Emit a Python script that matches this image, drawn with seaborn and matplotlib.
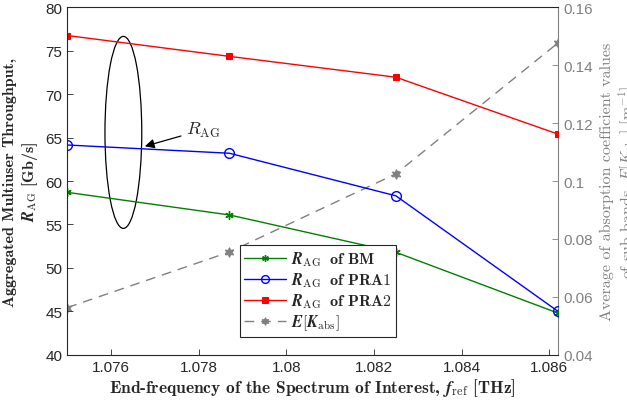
import numpy as np
import pandas as pd
import matplotlib
matplotlib.use("Agg")
import matplotlib.pyplot as plt
from matplotlib.patches import Ellipse
import seaborn as sns

sns.set_style("ticks")
plt.rcParams['font.family'] = ['Liberation Sans', 'DejaVu Sans']
plt.rcParams['mathtext.fontset'] = 'cm'
plt.rcParams['xtick.direction'] = 'in'
plt.rcParams['ytick.direction'] = 'in'
plt.rcParams['axes.unicode_minus'] = False

# ---- data ----
f_ref = [1.0750, 1.0787, 1.0825, 1.0862]
r_bm = [58.7, 56.1, 51.8, 44.8]
r_pra1 = [64.15, 63.2, 58.3, 45.0]
r_pra2 = [76.75, 74.35, 71.95, 65.4]
e_kabs = [0.0563, 0.0755, 0.1025, 0.1477]
xticks = [1.076, 1.078, 1.080, 1.082, 1.084, 1.086]
xticklabels = ['1.076', '1.078', '1.08', '1.082', '1.084', '1.086']
yticks_left = [40, 45, 50, 55, 60, 65, 70, 75, 80]
yticks_right = [0.04, 0.06, 0.08, 0.1, 0.12, 0.14, 0.16]
yticklabels_right = ['0.04', '0.06', '0.08', '0.1', '0.12', '0.14', '0.16']

df = pd.DataFrame({'f': f_ref, 'bm': r_bm, 'pra1': r_pra1, 'pra2': r_pra2, 'e': e_kabs})

fig = plt.figure(figsize=(6.27, 4.06), dpi=100)
ax = fig.add_axes([0.1073, 0.1236, 0.89 - 0.1073, 0.9796 - 0.1236])
ax2 = ax.twinx()

green = '#008000'
grey = '#808080'
lab = r'$\mathbfit{R}_{\rm AG}$'

sns.lineplot(data=df, x='f', y='bm', ax=ax, color=green, lw=1.0,
             marker=(6, 2, 0), markersize=6, markeredgewidth=1.0,
             markeredgecolor=green, label=lab + r'  $\mathbf{of\ BM}$')
sns.lineplot(data=df, x='f', y='pra1', ax=ax, color='blue', lw=1.0,
             marker='o', markersize=7, markerfacecolor='none',
             markeredgecolor='blue', markeredgewidth=1.0,
             label=lab + r'  $\mathbf{of\ PRA1}$')
sns.lineplot(data=df, x='f', y='pra2', ax=ax, color='red', lw=1.0,
             marker='s', markersize=5, markerfacecolor='red',
             markeredgecolor='red', label=lab + r'  $\mathbf{of\ PRA2}$')
sns.lineplot(data=df, x='f', y='e', ax=ax2, color=grey, lw=1.0,
             linestyle=(0, (7, 5)), marker=(6, 1, 0), markersize=7,
             markerfacecolor=grey, markeredgecolor=grey,
             label=r'$\mathbfit{E}[\mathbfit{K}_{\rm abs}]$')

ax.set_xlim(f_ref[0], f_ref[-1])
ax.set_ylim(40, 80)
ax2.set_ylim(0.04, 0.16)
ax.set_xticks(xticks)
ax.set_xticklabels(xticklabels)
ax.set_yticks(yticks_left)
ax2.set_yticks(yticks_right)
ax2.set_yticklabels(yticklabels_right)

ax.tick_params(axis='both', labelsize=11, colors='#262626', length=4, width=0.6)
ax2.tick_params(axis='y', labelsize=11, colors=grey, length=4, width=0.6)
for s in ['left', 'bottom', 'top']:
    ax.spines[s].set_color('#262626')
    ax.spines[s].set_linewidth(0.8)
ax2.spines['right'].set_color(grey)
ax2.spines['right'].set_linewidth(0.8)
ax2.spines['top'].set_visible(False)
ax.spines['right'].set_visible(False)
ax2.spines['left'].set_visible(False)
ax2.spines['bottom'].set_visible(False)
ax.spines['top'].set_visible(True)

ax.set_xlabel(r'End-frequency of the Spectrum of Interest, $\mathbfit{f}_{\rm ref}$ [THz]',
              fontfamily='cmb10', fontsize=12.5, labelpad=2)
ax.set_ylabel('Aggregated Multiuser Throughput,\n' + r'$\mathbfit{R}_{\rm AG}$ [Gb/s]',
              fontfamily='cmb10', fontsize=11.5, labelpad=4)
ax2.set_ylabel('Average of absorption coefficient values\n' +
               r'of sub-bands, $E[K_{\rm abs}]$ [m$^{-1}$]',
               fontfamily='cmr10', fontsize=11.5, color=grey, labelpad=5)

# legend combining both axes
h1, l1 = ax.get_legend_handles_labels()
h2, l2 = ax2.get_legend_handles_labels()
if ax2.get_legend() is not None:
    ax2.get_legend().remove()
leg = ax.legend(h1 + h2, l1 + l2, loc='lower left', bbox_to_anchor=(0.335, 0.028),
                fontsize=11.5, frameon=True, fancybox=False, edgecolor='#262626',
                framealpha=1, borderpad=0.3, labelspacing=0.15, handlelength=2.6,
                handletextpad=0.3, markerscale=0.8)
leg.get_frame().set_linewidth(0.8)
ax.set_zorder(ax2.get_zorder() + 1)
ax.patch.set_visible(False)

# annotation ellipse + arrow
ell = Ellipse((1.07628, 65.6), width=0.00084, height=22.1, fill=False,
              edgecolor='black', lw=0.9)
ax.add_patch(ell)
ax.annotate(r'$R_{\rm AG}$', xy=(1.07677, 64.0), xytext=(1.0777, 65.9),
            fontsize=13, va='center', ha='left',
            arrowprops=dict(arrowstyle='-|>', color='black', lw=0.9,
                            mutation_scale=14, shrinkA=1, shrinkB=0))

fig.savefig('out.png', dpi=100)
